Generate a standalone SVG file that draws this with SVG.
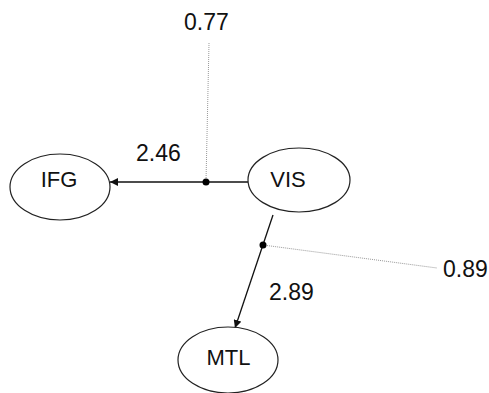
<svg xmlns="http://www.w3.org/2000/svg" width="489" height="393" viewBox="0 0 489 393">
<defs>
<style>
.node{fill:#fff;stroke:#222;stroke-width:1.2}
.lbl{font-family:"Liberation Sans",Arial,sans-serif;font-size:22px;fill:#111;text-anchor:middle}
.num{font-family:"Liberation Sans",Arial,sans-serif;font-size:23px;fill:#111}
.edge{stroke:#111;stroke-width:1.3;fill:none}
.dot{stroke:#999;stroke-width:1;stroke-dasharray:1 1;fill:none}
</style>
<marker id="ah" viewBox="0 0 10 10" refX="10" refY="5" markerWidth="8" markerHeight="8" markerUnits="userSpaceOnUse" orient="auto">
<path d="M0,0 L10,5 L0,10 z" fill="#111"/>
</marker>
</defs>
<rect width="489" height="393" fill="#fff"/>
<g id="connectors">
<line class="edge" x1="248" y1="182" x2="110" y2="182" marker-end="url(#ah)"/>
<line class="edge" x1="273" y1="215" x2="235" y2="328" marker-end="url(#ah)"/>
<line class="dot" x1="206" y1="182" x2="209" y2="43"/>
<line class="dot" x1="263" y1="245" x2="437" y2="268"/>
<circle cx="206" cy="182" r="3.5" fill="#000"/>
<circle cx="263" cy="245" r="3.5" fill="#000"/>
<text class="num" x="136" y="161">2.46</text>
<text class="num" x="184" y="30">0.77</text>
<text class="num" x="269" y="300">2.89</text>
<text class="num" x="443" y="277">0.89</text>
</g>
<g id="IFG">
<ellipse class="node" cx="60" cy="187" rx="50" ry="33"/>
<text class="lbl" x="59" y="187">IFG</text>
</g>
<g id="VIS">
<ellipse class="node" cx="299" cy="180" rx="51" ry="32"/>
<text class="lbl" x="288" y="187">VIS</text>
</g>
<g id="MTL">
<ellipse class="node" cx="228" cy="360" rx="50" ry="33"/>
<text class="lbl" x="228.5" y="365">MTL</text>
</g>
</svg>
